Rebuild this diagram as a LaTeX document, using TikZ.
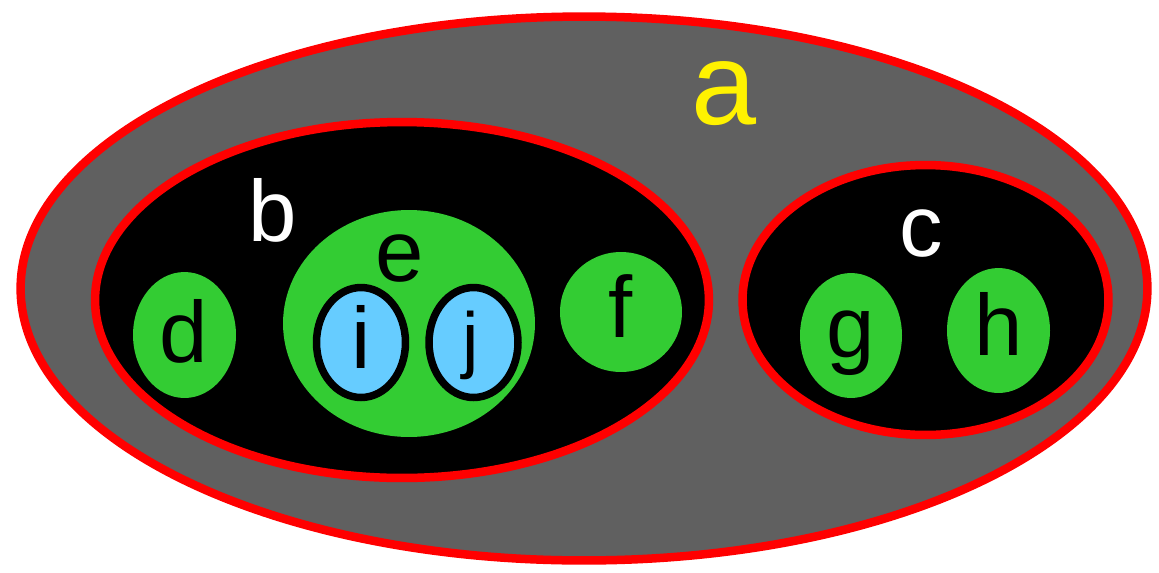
\documentclass[tikz,border=0pt]{standalone}
\usepackage{fontspec}
\setmainfont{Liberation Sans}
\usetikzlibrary{shapes.geometric}

\definecolor{setgray}{RGB}{96,96,96}
\definecolor{elemgreen}{RGB}{51,204,51}
\definecolor{elemblue}{RGB}{102,204,255}

\begin{document}
\begin{tikzpicture}[x=0.02cm, y=-0.02cm,
  set/.style={ellipse, draw=red, line width=0.17cm, inner sep=0},
  elem/.style={ellipse, fill=elemgreen, inner sep=0},
  sub/.style={ellipse, draw=black, fill=elemblue, line width=0.15cm, inner sep=0,
    minimum width=1.78cm, minimum height=2.20cm},
  lbl/.style={anchor=base, inner sep=0, font=\fontsize{49.5}{50}\selectfont}]
  \useasboundingbox (0,0) rectangle (1159,572);

  % mengen
  \node[set, fill=setgray, minimum width=22.54cm, minimum height=10.88cm] (a) at (584,288.5) {};
  \node[set, fill=black, minimum width=12.28cm, minimum height=7.12cm] (b) at (402,300) {};
  \node[set, fill=black, minimum width=7.32cm, minimum height=5.40cm] (c) at (925.5,300) {};

  % elemente
  \node[elem, minimum width=5.04cm, minimum height=4.54cm] (e) at (409,323.5) {};
  \node[sub] (i) at (361,342.5) {};
  \node[sub] (j) at (473.5,342.5) {};
  \node[elem, minimum width=2.06cm, minimum height=2.52cm] (d) at (184.5,335) {};
  \node[elem, minimum width=2.44cm, minimum height=2.40cm] (f) at (621,312) {};
  \node[elem, minimum width=2.04cm, minimum height=2.50cm] (g) at (851,335.5) {};
  \node[elem, minimum width=2.06cm, minimum height=2.50cm] (h) at (998.5,330.5) {};

  % beschriftung
  \node[lbl, text=yellow, font=\fontsize{66.6}{67}\selectfont] (la) at (724,124) {a};
  \node[lbl, text=white] (lb) at (273,241) {b};
  \node[lbl, text=white] (lc) at (921,256) {c};
  \node[lbl] (ld) at (184,362) {d};
  \node[lbl] (le) at (400,281) {e};
  \node[lbl] (lf) at (621,337) {f};
  \node[lbl] (lg) at (851,357) {g};
  \node[lbl] (lh) at (999,355) {h};
  \node[lbl] (li) at (361,368) {i};
  \node[lbl, font=\fontsize{42}{43}\selectfont] (lj) at (471,364) {j};
\end{tikzpicture}
\end{document}
